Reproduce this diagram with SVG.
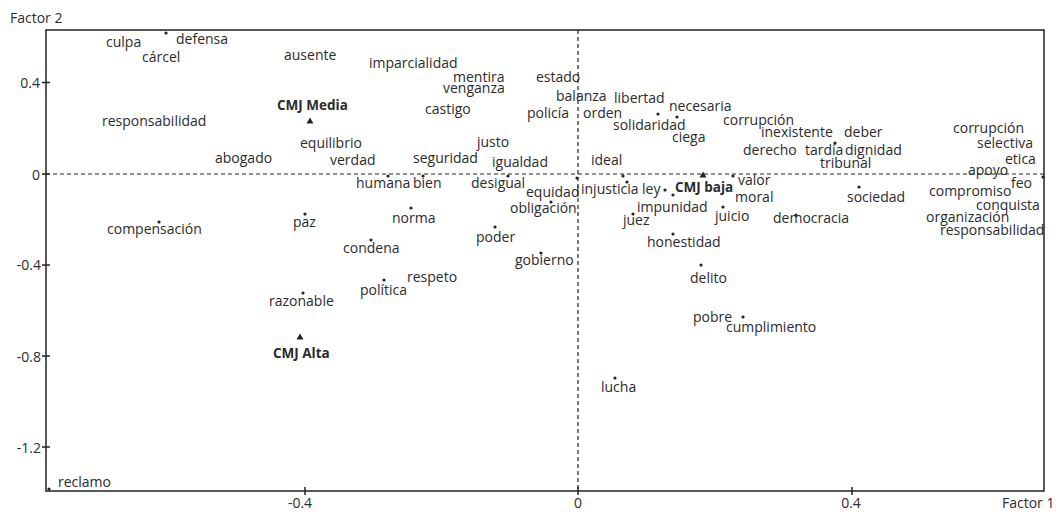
<svg xmlns="http://www.w3.org/2000/svg" width="1056" height="512" viewBox="0 0 1056 512">
<style>
text{font-family:"Open Sans","DejaVu Sans",sans-serif;font-size:14px;fill:#2b2b2b}
.b{font-weight:bold;font-size:13.5px}
.ax{stroke:#222;stroke-width:1.5;fill:none}
.d{stroke:#222;stroke-width:1.2;stroke-dasharray:4 3;fill:none}
.yl{text-anchor:end}
.xl{text-anchor:middle}
circle{fill:#222}
.tri{fill:#222}
</style>
<defs>
<circle id="dot" r="1.6"/>
<path id="tri" d="M0,-3.5 L3.5,2.5 L-3.5,2.5 Z"/>
</defs>
<rect width="1056" height="512" fill="#fff"/>
<g id="axes">
<path class="ax" d="M46,30 H1044 V491 H46 Z"/>
<path class="d" d="M46,174 H1044 M578,30 V491"/>
<path class="ax" d="M42,82.5 H50 M42,174 H50 M42,265 H50 M42,356 H50 M42,447 H50 M305,487 V495 M578,487 V495 M852,487 V495"/>
<text x="10" y="23">Factor 2</text>
<text x="1002" y="508">Factor 1</text>
<text class="yl" x="40" y="88">0.4</text>
<text class="yl" x="40" y="180">0</text>
<text class="yl" x="41" y="270">-0.4</text>
<text class="yl" x="41" y="362">-0.8</text>
<text class="yl" x="41" y="453">-1.2</text>
<text class="xl" x="300" y="508">-0.4</text>
<text class="xl" x="578" y="508">0</text>
<text class="xl" x="851" y="508">0.4</text>
</g>
<g id="connectors"></g>
<g id="points">
<use href="#dot" x="166" y="33"/>
<use href="#dot" x="658" y="114"/>
<use href="#dot" x="677" y="117"/>
<use href="#dot" x="835" y="143"/>
<use href="#dot" x="388" y="176"/>
<use href="#dot" x="423" y="176"/>
<use href="#dot" x="508" y="176"/>
<use href="#dot" x="577" y="178"/>
<use href="#dot" x="623" y="176"/>
<use href="#dot" x="627" y="182"/>
<use href="#dot" x="665" y="190"/>
<use href="#dot" x="673" y="195"/>
<use href="#dot" x="733" y="176"/>
<use href="#dot" x="1043" y="177"/>
<use href="#dot" x="551" y="202"/>
<use href="#dot" x="411" y="208"/>
<use href="#dot" x="633" y="214"/>
<use href="#dot" x="495" y="227"/>
<use href="#dot" x="541" y="253"/>
<use href="#dot" x="371" y="240"/>
<use href="#dot" x="384" y="280"/>
<use href="#dot" x="159" y="222"/>
<use href="#dot" x="305" y="214"/>
<use href="#dot" x="303" y="293"/>
<use href="#dot" x="723" y="207"/>
<use href="#dot" x="796" y="215"/>
<use href="#dot" x="859" y="187"/>
<use href="#dot" x="673" y="234"/>
<use href="#dot" x="701" y="265"/>
<use href="#dot" x="743" y="317"/>
<use href="#dot" x="615" y="378"/>
<use href="#dot" x="49" y="489"/>
</g>
<g id="cmj-media"><use class="tri" href="#tri" x="310" y="121"/><text class="b" x="277" y="110">CMJ Media</text></g>
<g id="cmj-baja"><use class="tri" href="#tri" x="703" y="175"/><text class="b" x="675" y="192">CMJ baja</text></g>
<g id="cmj-alta"><use class="tri" href="#tri" x="300" y="337"/><text class="b" x="273" y="358">CMJ Alta</text></g>
<g id="labels">
<text x="106" y="47">culpa</text>
<text x="176" y="44">defensa</text>
<text x="142" y="62">cárcel</text>
<text x="284" y="60">ausente</text>
<text x="369" y="68">imparcialidad</text>
<text x="453" y="82">mentira</text>
<text x="443" y="93">venganza</text>
<text x="536" y="82">estado</text>
<text x="102" y="126">responsabilidad</text>
<text x="425" y="114">castigo</text>
<text x="556" y="101">balanza</text>
<text x="614" y="103">libertad</text>
<text x="669" y="111">necesaria</text>
<text x="527" y="118">policía</text>
<text x="583" y="118">orden</text>
<text x="613" y="130">solidaridad</text>
<text x="723" y="125">corrupción</text>
<text x="761" y="137">inexistente</text>
<text x="844" y="137">deber</text>
<text x="953" y="133">corrupción</text>
<text x="672" y="142">ciega</text>
<text x="477" y="147">justo</text>
<text x="300" y="148">equilibrio</text>
<text x="977" y="148">selectiva</text>
<text x="743" y="155">derecho</text>
<text x="805" y="155">tardía</text>
<text x="845" y="155">dignidad</text>
<text x="215" y="163">abogado</text>
<text x="330" y="165">verdad</text>
<text x="413" y="163">seguridad</text>
<text x="492" y="167">igualdad</text>
<text x="591" y="165">ideal</text>
<text x="1005" y="164">etica</text>
<text x="820" y="168">tribunal</text>
<text x="968" y="175">apoyo</text>
<text x="356" y="188">humana</text>
<text x="413" y="188">bien</text>
<text x="471" y="188">desigual</text>
<text x="581" y="194">injusticia</text>
<text x="642" y="194">ley</text>
<text x="738" y="185">valor</text>
<text x="1011" y="188">feo</text>
<text x="526" y="197">equidad</text>
<text x="929" y="196">compromiso</text>
<text x="735" y="202">moral</text>
<text x="847" y="202">sociedad</text>
<text x="510" y="213">obligación</text>
<text x="637" y="212">impunidad</text>
<text x="976" y="210">conquista</text>
<text x="715" y="221">juicio</text>
<text x="773" y="223">democracia</text>
<text x="926" y="222">organización</text>
<text x="392" y="223">norma</text>
<text x="623" y="225">juez</text>
<text x="293" y="227">paz</text>
<text x="107" y="234">compensación</text>
<text x="940" y="235">responsabilidad</text>
<text x="476" y="242">poder</text>
<text x="647" y="247">honestidad</text>
<text x="343" y="253">condena</text>
<text x="515" y="265">gobierno</text>
<text x="407" y="282">respeto</text>
<text x="690" y="283">delito</text>
<text x="360" y="295">política</text>
<text x="269" y="306">razonable</text>
<text x="693" y="322">pobre</text>
<text x="726" y="332">cumplimiento</text>
<text x="601" y="392">lucha</text>
<text x="58" y="487">reclamo</text>
</g>
</svg>
